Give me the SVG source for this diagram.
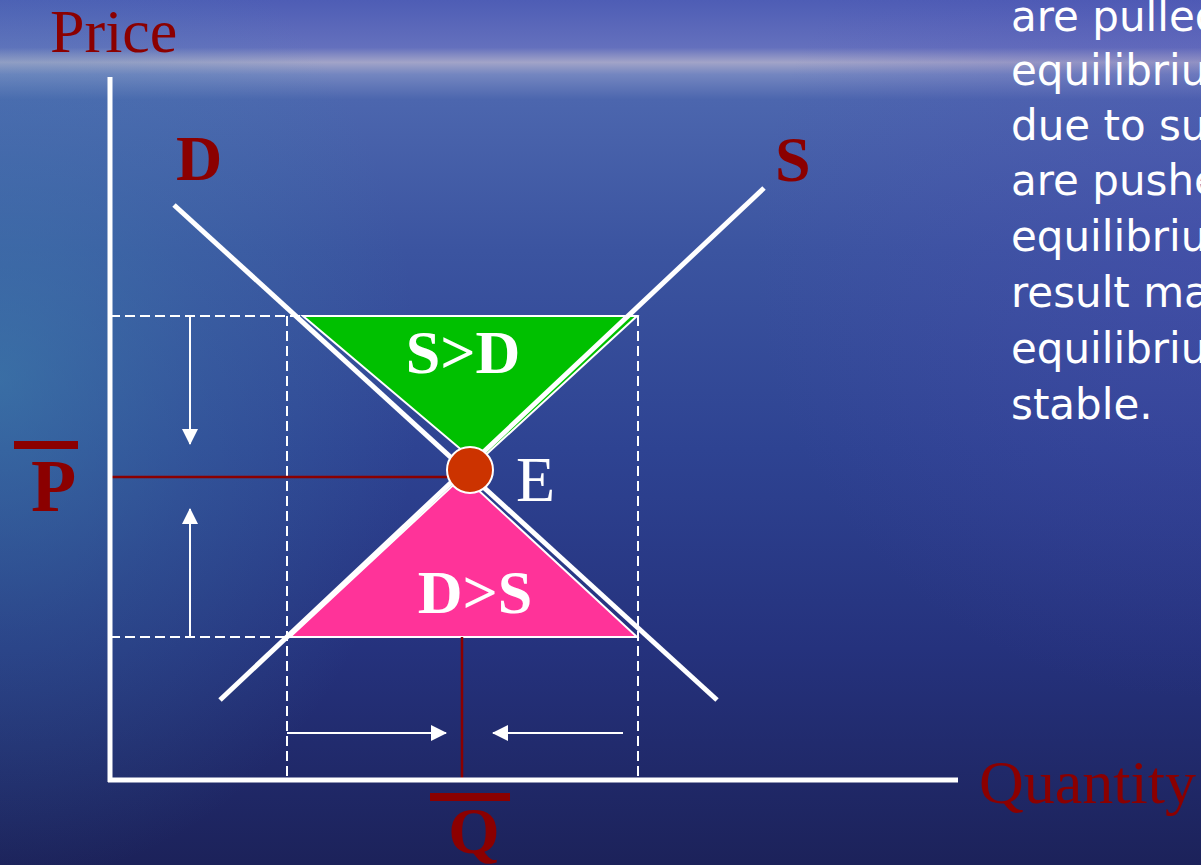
<svg xmlns="http://www.w3.org/2000/svg" width="1201" height="865" viewBox="0 0 1201 865">
  <defs>
    <linearGradient id="bg" x1="0" y1="0" x2="0" y2="1">
      <stop offset="0" stop-color="#4e5db5"/>
      <stop offset="0.055" stop-color="#6470bd"/>
      <stop offset="0.072" stop-color="#a2a4c8"/>
      <stop offset="0.086" stop-color="#7486c0"/>
      <stop offset="0.115" stop-color="#4c66ae"/>
      <stop offset="0.29" stop-color="#3b54a0"/>
      <stop offset="0.52" stop-color="#2e4392"/>
      <stop offset="0.75" stop-color="#25327d"/>
      <stop offset="1" stop-color="#1c225a"/>
    </linearGradient>
    <radialGradient id="teal" gradientUnits="userSpaceOnUse" cx="0" cy="380" r="420" gradientTransform="translate(0,380) scale(1,1.2) translate(0,-380)">
      <stop offset="0" stop-color="#3f8cb0" stop-opacity="0.55"/>
      <stop offset="0.5" stop-color="#3f84b0" stop-opacity="0.25"/>
      <stop offset="1" stop-color="#3f84b0" stop-opacity="0"/>
    </radialGradient>
    <radialGradient id="violet" gradientUnits="userSpaceOnUse" cx="1201" cy="250" r="450">
      <stop offset="0" stop-color="#5048b4" stop-opacity="0.35"/>
      <stop offset="1" stop-color="#5048b4" stop-opacity="0"/>
    </radialGradient>
    <marker id="ah" viewBox="0 0 16 16" refX="15" refY="8" markerWidth="16" markerHeight="16" markerUnits="userSpaceOnUse" orient="auto">
      <path d="M0,0 L16,8 L0,16 Z" fill="#fff"/>
    </marker>
    <style>
      .axis{stroke:#fff;stroke-width:5;fill:none}
      .curve{stroke:#fff;stroke-width:5;fill:none}
      .dash{stroke:#fff;stroke-width:2;stroke-dasharray:10,5;fill:none}
      .arrow{stroke:#fff;stroke-width:2;fill:none;marker-end:url(#ah)}
      .guide{stroke:#8b0000;stroke-width:2.5;fill:none}
      .lab{font-family:"Liberation Serif","Times New Roman",serif;font-size:62px;fill:#8b0000}
      .bold{font-weight:bold}
      .wlab{font-family:"Liberation Serif","Times New Roman",serif;font-size:62px;fill:#fff;font-weight:bold}
      .note{font-family:"DejaVu Sans",Verdana,sans-serif;font-size:42px;fill:#fff}
    </style>
  </defs>
  <rect width="1201" height="865" fill="url(#bg)"/>
  <rect width="1201" height="865" fill="url(#teal)"/>
  <rect width="1201" height="865" fill="url(#violet)"/>

  <g id="guides">
    <path class="dash" d="M110,316 H638 M110,637 H638 M287,316 V780 M638,316 V780"/>
  </g>

  <g id="surplus">
    <polygon points="303,316 637,316 477,463" fill="#00c000" stroke="#fff" stroke-width="2"/>
    <text class="wlab" x="463" y="373" text-anchor="middle">S&gt;D</text>
  </g>
  <g id="shortage">
    <polygon points="290,637 637,637 463,476" fill="#ff3399" stroke="#fff" stroke-width="2"/>
    <text class="wlab" x="475" y="613" text-anchor="middle">D&gt;S</text>
  </g>

  <g id="connectors">
    <line class="guide" x1="112" y1="477" x2="448" y2="477"/>
    <line class="guide" x1="462" y1="637" x2="462" y2="780"/>
    <line class="curve" x1="174" y1="205" x2="717" y2="700"/>
    <line class="curve" x1="220" y1="700" x2="764" y2="188"/>
    <line class="arrow" x1="190" y1="316" x2="190" y2="444"/>
    <line class="arrow" x1="190" y1="637" x2="190" y2="509"/>
    <line class="arrow" x1="287" y1="733" x2="446" y2="733"/>
    <line class="arrow" x1="623" y1="733" x2="493" y2="733"/>
  </g>

  <g id="axes">
    <line class="axis" x1="110" y1="77" x2="110" y2="782"/>
    <line class="axis" x1="108" y1="780" x2="958" y2="780"/>
    <text class="lab" x="50" y="52">Price</text>
    <text class="lab" x="979" y="803">Quantity</text>
  </g>

  <g id="demand-label"><text class="lab bold" x="176" y="180" style="font-size:64px">D</text></g>
  <g id="supply-label"><text class="lab bold" x="775" y="181" style="font-size:64px">S</text></g>

  <g id="price-label">
    <rect x="14" y="441" width="64" height="8" fill="#8b0000"/>
    <text class="lab bold" x="31" y="511" style="font-size:74px">P</text>
  </g>
  <g id="quantity-label">
    <rect x="430" y="793" width="80" height="8" fill="#8b0000"/>
    <text class="lab bold" x="474" y="853" text-anchor="middle" style="font-size:66px">Q</text>
  </g>

  <g id="equilibrium">
    <circle cx="470" cy="470" r="23" fill="#cc3300" stroke="#fff" stroke-width="2"/>
    <text x="516" y="501" style="font-family:'Liberation Serif','Times New Roman',serif;font-size:64px;fill:#fff">E</text>
  </g>

  <g id="note">
    <text class="note" x="1011" y="31">are pulled</text>
    <text class="note" x="1011" y="85">equilibriu</text>
    <text class="note" x="1011" y="140">due to su</text>
    <text class="note" x="1011" y="195">are pushe</text>
    <text class="note" x="1011" y="251">equilibriu</text>
    <text class="note" x="1011" y="307">result ma</text>
    <text class="note" x="1011" y="363">equilibriu</text>
    <text class="note" x="1011" y="419">stable.</text>
  </g>
</svg>
